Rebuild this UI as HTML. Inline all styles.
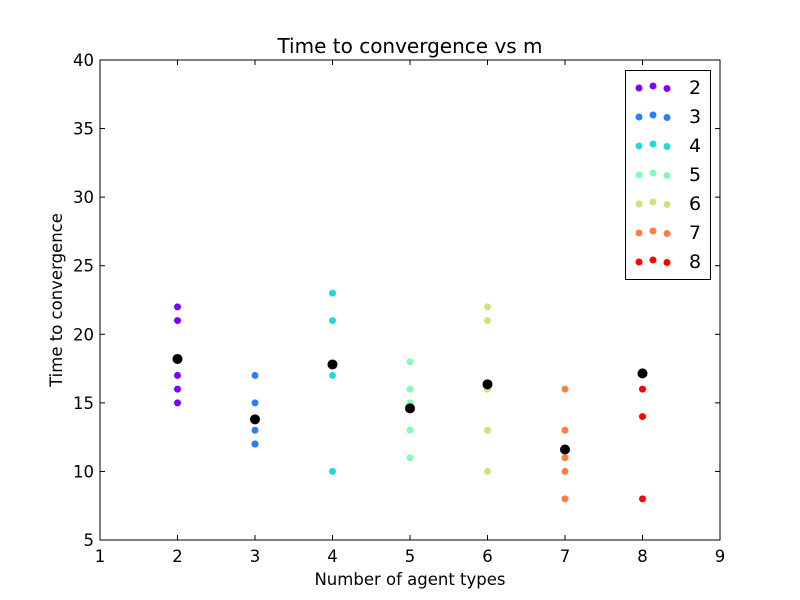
<!DOCTYPE html>
<html><head><meta charset="utf-8"><style>
body{margin:0;background:#fff}
svg{display:block;font-family:"DejaVu Sans","Liberation Sans",sans-serif}
</style></head><body>
<svg id="chart" width="800" height="600"></svg>
<script>
const categories=[2,3,4,5,6,7,8];
const seriesValues=[
 [22,21,17,16,15],
 [17,15,13,12,12],
 [23,21,17,10],
 [18,16,15,13,11],
 [22,21,16,13,10],
 [16,13,11,10,8],
 [16,14,8]
];
const meanValues=[18.2,13.8,17.8,14.6,16.35,11.6,17.15];
const colors=["#8000ff","#2c7ef7","#1fd8e0","#80ffb4","#d4dd80","#ff7f40","#ff0000"];
const xTicks=[1,2,3,4,5,6,7,8,9];
const yTicks=[5,10,15,20,25,30,35,40];

const L=100,R=720,T=60,B=540;
const xs=v=>L+(v-1)/(9-1)*(R-L);
const ys=v=>B-(v-5)/(40-5)*(B-T);
const svg=document.getElementById('chart');
const NS='http://www.w3.org/2000/svg';
function mk(tag,attrs,parent){const e=document.createElementNS(NS,tag);for(const k in attrs)e.setAttribute(k,attrs[k]);(parent||svg).appendChild(e);return e;}

let t=mk('text',{x:410,y:53,'text-anchor':'middle','font-size':20});t.textContent='Time to convergence vs m';


t=mk('text',{x:410,y:585,'text-anchor':'middle','font-size':16.5});t.textContent='Number of agent types';


t=mk('text',{x:62,y:300,'text-anchor':'middle','font-size':16.5,transform:'rotate(-90 62 300)'});t.textContent='Time to convergence';



xTicks.forEach(v=>{const x=xs(v);
 mk('line',{x1:x,x2:x,y1:B,y2:B-5,stroke:'#000'});mk('line',{x1:x,x2:x,y1:T,y2:T+5,stroke:'#000'});
 const l=mk('text',{x:x,y:B+22,'text-anchor':'middle','font-size':16.5});l.textContent=v;
 
 
});
yTicks.forEach(v=>{const y=ys(v);
 mk('line',{x1:L,x2:L+5,y1:y,y2:y,stroke:'#000'});mk('line',{x1:R,x2:R-5,y1:y,y2:y,stroke:'#000'});
 const l=mk('text',{x:L-6,y:y+6,'text-anchor':'end','font-size':16.5});l.textContent=v;
 
 
});

categories.forEach((c,i)=>{
 seriesValues[i].forEach(v=>{
  const p=mk('circle',{cx:xs(c),cy:ys(v),r:3.5,fill:colors[i]});
  
  
 });
});
categories.forEach((c,i)=>{
 const p=mk('circle',{cx:xs(c),cy:ys(meanValues[i]),r:5,fill:'#000'});
 
 
});

const frame=mk('rect',{x:L,y:T,width:R-L,height:B-T,fill:'none',stroke:'#000'});



const lg=mk('g',{});


mk('rect',{x:625.5,y:70.5,width:85,height:209,fill:'#fff',stroke:'#000'},lg);
categories.forEach((c,i)=>{
 const y=87+i*29;
 const g=mk('g',{},lg);
 
 
 [[639,1],[653,-1],[667,1.5]].forEach(d=>mk('circle',{cx:d[0],cy:y+d[1],r:3.5,fill:colors[i]},g));
 const l=mk('text',{x:689,y:y+7,'font-size':19},g);l.textContent=c;
});
</script>
</body></html>
